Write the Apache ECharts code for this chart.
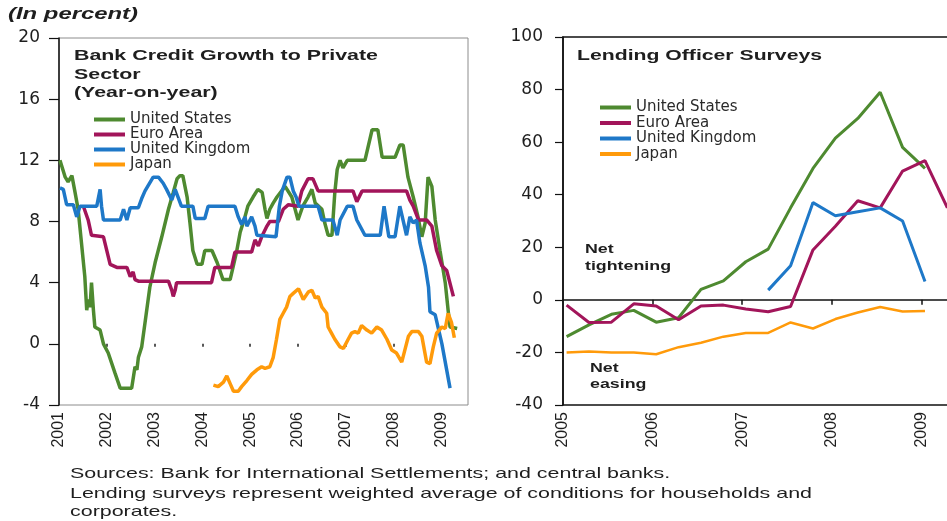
<!DOCTYPE html>
<html><head><meta charset="utf-8">
<script src="https://cdn.jsdelivr.net/npm/echarts/dist/echarts.min.js"></script>
<style>html,body{margin:0;padding:0;background:#fff}#c{width:947px;height:521px}</style>
</head><body><div id="c"></div>
<script>
// ---------- shared ----------
const seriesNames = ['United States', 'Euro Area', 'United Kingdom', 'Japan'];

// ---------- left panel: Bank credit growth to private sector (y/y, %) ----------
const leftYears = [2001, 2002, 2003, 2004, 2005, 2006, 2007, 2008, 2009];
const leftZeroTicks = [2002, 2003, 2004, 2005, 2006, 2007, 2008, 2009];

const usDates = [2001.02,2001.13,2001.19,2001.27,2001.33,2001.40,2001.47,2001.54,2001.58,2001.61,2001.65,2001.68,2001.72,2001.75,2001.86,2001.93,
  2002.03,2002.17,2002.28,2002.52,2002.59,2002.63,2002.66,2002.73,2002.80,2002.90,
  2003.01,2003.15,2003.29,2003.39,2003.47,2003.53,2003.59,2003.68,2003.74,2003.80,2003.89,2003.99,
  2004.05,2004.20,2004.31,2004.43,2004.58,2004.64,2004.72,2004.79,2004.89,2004.95,
  2005.06,2005.16,2005.25,2005.31,2005.35,2005.41,2005.48,2005.56,2005.73,2005.87,
  2006.00,2006.10,2006.21,2006.29,2006.36,2006.50,2006.56,2006.63,2006.71,2006.77,2006.82,2006.88,2006.94,
  2007.03,2007.40,2007.55,2007.67,2007.76,
  2008.03,2008.13,2008.20,2008.30,2008.41,2008.51,2008.59,2008.66,2008.72,2008.80,2008.87,2008.97,
  2009.08,2009.14,2009.18,2009.33];
const usCredit = [12.0,10.9,10.6,11.0,10.0,8.8,6.6,4.4,2.2,2.9,2.4,4.0,2.2,1.1,0.9,0.0,
  -0.6,-1.9,-2.9,-2.9,-1.5,-1.7,-0.9,-0.2,1.4,3.7,
  5.3,7.0,8.8,9.9,10.8,11.0,11.0,9.6,7.9,6.1,5.2,5.2,
  6.1,6.1,5.3,4.2,4.2,5.0,6.1,7.3,8.3,9.0,
  9.6,10.1,9.9,8.8,8.2,8.8,9.2,9.6,10.3,9.6,
  8.1,9.0,9.6,10.1,9.2,8.8,7.9,7.1,7.1,9.9,11.4,12.0,11.5,
  12.0,12.0,14.0,14.0,12.2,
  12.2,13.0,13.0,10.9,9.6,8.3,7.0,7.9,10.9,10.3,8.1,6.1,
  4.0,2.2,1.1,1.0];

const euroDates = [2001.51,2001.61,2001.68,2001.93,
  2002.00,2002.07,2002.21,2002.42,2002.49,2002.55,2002.59,2002.66,
  2003.29,2003.36,2003.39,2003.43,2003.46,
  2004.19,2004.26,2004.61,2004.68,
  2005.03,2005.10,2005.17,2005.24,2005.35,2005.41,2005.59,2005.69,2005.80,
  2006.00,2006.08,2006.21,2006.31,2006.42,
  2007.15,2007.23,2007.34,
  2008.27,2008.34,2008.41,2008.52,2008.69,2008.80,2008.90,
  2009.01,2009.11,2009.25];
const euroCredit = [9.0,8.1,7.1,7.0,
  6.1,5.2,5.0,5.0,4.4,4.7,4.2,4.1,
  4.1,3.5,3.1,3.5,4.0,
  4.0,5.0,5.0,6.0,
  6.0,6.8,6.4,7.0,7.7,8.0,8.0,8.8,9.1,
  9.0,10.0,10.8,10.8,10.0,
  10.0,9.3,10.0,
  10.0,9.4,9.0,8.1,8.1,7.7,6.1,
  5.1,4.8,3.1];

const ukDates = [2001.02,2001.09,2001.16,2001.30,2001.37,2001.44,2001.79,2001.86,2001.89,2001.93,
  2002.28,2002.35,2002.42,2002.49,2002.66,2002.73,2002.80,2002.97,
  2003.08,2003.18,2003.25,2003.36,2003.43,2003.46,2003.56,2003.80,2003.85,
  2004.05,2004.12,2004.68,2004.75,2004.82,2004.89,2004.93,
  2005.03,2005.10,2005.14,2005.54,2005.61,2005.67,2005.77,2005.83,2005.90,2005.96,
  2006.02,2006.42,2006.50,2006.73,2006.82,2006.88,
  2007.03,2007.15,2007.23,2007.40,2007.72,2007.80,2007.90,
  2008.03,2008.13,2008.27,2008.34,2008.41,2008.48,2008.55,2008.66,2008.73,2008.76,2008.87,
  2009.01,2009.18];
const ukCredit = [10.2,10.1,9.1,9.1,8.3,9.0,9.0,10.1,9.0,8.1,
  8.1,8.8,8.1,8.9,8.9,9.5,10.0,10.9,
  10.9,10.5,10.1,9.4,10.1,10.0,9.0,9.0,8.2,
  8.2,9.0,9.0,8.3,7.8,8.3,7.7,
  8.3,7.7,7.1,7.0,9.0,10.0,10.9,10.9,10.0,9.6,
  9.0,9.0,8.1,8.1,7.1,8.1,
  9.0,9.0,8.1,7.1,7.1,9.0,7.0,
  7.0,9.0,7.1,8.3,7.9,8.1,6.6,5.1,3.7,2.1,1.9,
  0.0,-2.9];

const jpDates = [2004.23,2004.33,2004.44,2004.51,2004.58,2004.65,2004.75,2004.82,2004.93,
  2005.03,2005.14,2005.24,2005.31,2005.41,2005.48,2005.55,2005.62,2005.69,2005.76,2005.83,2005.90,
  2006.01,2006.11,2006.22,2006.29,2006.36,2006.42,2006.50,2006.60,2006.63,2006.70,2006.77,2006.88,2006.95,
  2007.05,2007.12,2007.19,2007.26,2007.33,2007.44,2007.54,2007.65,2007.75,2007.86,2007.96,
  2008.06,2008.17,2008.20,2008.31,2008.38,2008.52,2008.59,2008.69,2008.76,2008.83,2008.90,
  2009.01,2009.08,2009.14,2009.21,2009.27];
const jpCredit = [-2.7,-2.8,-2.5,-2.1,-2.6,-3.1,-3.1,-2.8,-2.4,
  -2.0,-1.7,-1.5,-1.6,-1.5,-0.9,0.3,1.6,2.0,2.4,3.1,3.3,
  3.6,2.9,3.4,3.5,3.0,3.1,2.4,2.0,1.1,0.7,0.3,-0.2,-0.3,
  0.3,0.7,0.8,0.7,1.2,0.9,0.7,1.1,0.9,0.3,-0.4,
  -0.6,-1.2,-1.3,0.5,0.8,0.8,0.5,-1.2,-1.3,-0.2,0.7,
  1.1,1.0,2.0,1.4,0.4];

// ---------- right panel: Lending officer surveys (net %) ----------
const rightYears = [2005, 2006, 2007, 2008, 2009];
const surveyDates = [2005.04,2005.29,2005.54,2005.79,2006.04,2006.29,2006.54,2006.79,2007.04,2007.29,2007.54,2007.79,2008.04,2008.29,2008.54,2008.79,2009.04,2009.29];
const usSurvey   = [-14,-9.5,-5.5,-4,-8.5,-6.8,4,7.2,14.5,19.3,35,50,61.5,69,79,58,50,null];
const euroSurvey = [-2,-8.6,-8.5,-1.5,-2.3,-7.6,-2.3,-2,-3.5,-4.5,-2.5,19,28,37.7,35,49,53,35];
const ukSurvey   = [null,null,null,null,null,null,null,null,null,3.7,13,37,32,33.5,35,30,7,null];
const jpSurvey   = [-20,-19.6,-20,-20,-20.7,-18,-16.3,-14,-12.6,-12.6,-8.6,-10.9,-7.3,-4.8,-2.7,-4.4,-4.2,null];

// ---------- texts ----------
const unitText = '(In percent)';
const leftTitle = ['Bank Credit Growth to Private', 'Sector', '(Year-on-year)'];
const rightTitle = 'Lending Officer Surveys';
const tightText = ['Net', 'tightening'];
const easeText = ['Net', 'easing'];
const footnote = ['Sources: Bank for International Settlements; and central banks.',
  'Lending surveys represent weighted average of conditions for households and',
  'corporates.'];

// ---------- styling ----------
const colors = ['#4E8A30', '#A2155A', '#1E78C8', '#FF9A0A'];
const pair = (xs, ys) => xs.map((x, i) => [x, ys[i]]);

const mctx = document.createElement('canvas').getContext('2d');
function measure(str, font) { mctx.font = font; return mctx.measureText(str).width; }
function txt(str, x, y, font, scaleX, fill) {
  return { type: 'text', x: x, y: y, scaleX: scaleX, silent: true,
    style: { text: str, font: font, fill: fill || '#1e1e1e', align: 'left', verticalAlign: 'middle' } };
}
const fTitle = 'bold 15px "Liberation Sans"';
const fUnit = 'italic bold 16px "Liberation Sans"';
const fNote = 'bold 12px "Liberation Sans"';
const fFoot = '15px "Liberation Sans"';
const sLeftTitle = 304 / measure(leftTitle[0], fTitle);
const sRightTitle = 245 / measure(rightTitle, fTitle);
const sUnit = 130 / measure(unitText, fUnit);
const sNote = 86 / measure(tightText[1], fNote);
const sFoot = 742 / measure(footnote[1], fFoot);

const graphics = [
  txt(unitText, 8, 15, fUnit, sUnit),
  txt(leftTitle[0], 74, 56, fTitle, sLeftTitle),
  txt(leftTitle[1], 74, 75, fTitle, sLeftTitle),
  txt(leftTitle[2], 74, 93, fTitle, sLeftTitle),
  txt(rightTitle, 577, 56, fTitle, sRightTitle),
  txt(tightText[0], 585, 250, fNote, sNote),
  txt(tightText[1], 585, 267, fNote, sNote),
  txt(easeText[0], 590, 369, fNote, sNote),
  txt(easeText[1], 590, 385, fNote, sNote),
  txt(footnote[0], 70, 474, fFoot, sFoot),
  txt(footnote[1], 70, 494, fFoot, sFoot),
  txt(footnote[2], 70, 512, fFoot, sFoot)
];

const axisFont = 'DejaVu Sans';
const lineS = (name, data, xi, yi, idx, w) => ({
  name: name, type: 'line', data: data, xAxisIndex: xi, yAxisIndex: yi,
  showSymbol: false, symbol: 'none', connectNulls: false, clip: true,
  color: colors[idx], lineStyle: { width: w, color: colors[idx] }, z: 3 + idx
});

const chart = echarts.init(document.getElementById('c'), null, { renderer: 'canvas' });
chart.setOption({
  animation: false,
  backgroundColor: '#fff',
  grid: [
    { left: 59, top: 38, width: 409, height: 367, show: true, borderColor: '#8c8c8c', borderWidth: 1, backgroundColor: 'transparent', containLabel: false, outerBoundsMode: 'none' },
    { left: 563, top: 37, width: 386, height: 368, show: true, borderColor: '#111', borderWidth: 1.5, backgroundColor: 'transparent', containLabel: false, outerBoundsMode: 'none' }
  ],
  xAxis: [
    { gridIndex: 0, type: 'value', min: 2001, max: 2009.556, position: 'bottom',
      axisLine: { show: false, onZero: false }, axisTick: { show: false }, splitLine: { show: false },
      axisLabel: { customValues: leftYears, rotate: 90, margin: 7, fontFamily: 'Liberation Sans', fontSize: 16, color: '#1e1e1e', formatter: v => String(v) } },
    { gridIndex: 0, type: 'value', min: 2001, max: 2009.556, position: 'bottom',
      axisLine: { show: false, onZero: true }, splitLine: { show: false },
      axisTick: { show: true, customValues: leftZeroTicks, length: 3, lineStyle: { color: '#222', width: 1.5 } },
      axisLabel: { show: false } },
    { gridIndex: 1, type: 'value', min: 2005, max: 2009.308, position: 'bottom',
      axisLine: { show: false, onZero: false }, axisTick: { show: false }, splitLine: { show: false },
      axisLabel: { customValues: rightYears, rotate: 90, margin: 7, fontFamily: 'Liberation Sans', fontSize: 16, color: '#1e1e1e', formatter: v => String(v) } },
    { gridIndex: 1, type: 'value', min: 2005, max: 2009.308, position: 'bottom',
      axisLine: { show: true, onZero: true, lineStyle: { color: '#111', width: 1.5 } }, splitLine: { show: false },
      axisTick: { show: true, customValues: rightYears.slice(1), length: 5, lineStyle: { color: '#111', width: 1.5 } },
      axisLabel: { show: false } }
  ],
  yAxis: [
    { gridIndex: 0, type: 'value', min: -4, max: 20, interval: 4,
      axisLine: { show: true, onZero: false, lineStyle: { color: '#111', width: 1.5 } },
      axisTick: { show: true, length: 10, lineStyle: { color: '#111', width: 1.2 } },
      splitLine: { show: false },
      axisLabel: { margin: 19, fontFamily: axisFont, fontSize: 17, color: '#1e1e1e' } },
    { gridIndex: 1, type: 'value', min: -40, max: 100, interval: 20,
      axisLine: { show: true, onZero: false, lineStyle: { color: '#111', width: 1.5 } },
      axisTick: { show: true, length: 8, lineStyle: { color: '#111', width: 1.2 } },
      splitLine: { show: false },
      axisLabel: { margin: 20, fontFamily: axisFont, fontSize: 17, color: '#1e1e1e' } }
  ],
  legend: [
    { data: seriesNames, orient: 'vertical', left: 94, top: 112, itemWidth: 31, itemHeight: 4, itemGap: 0,
      icon: 'rect', selectedMode: false, padding: 0,
      textStyle: { fontFamily: axisFont, fontSize: 15, lineHeight: 14.5, color: '#2a2a2a' } },
    { data: seriesNames, orient: 'vertical', left: 600, top: 100, itemWidth: 31, itemHeight: 4, itemGap: 0.5,
      icon: 'rect', selectedMode: false, padding: 0,
      textStyle: { fontFamily: axisFont, fontSize: 15, lineHeight: 14.5, color: '#2a2a2a' } }
  ],
  graphic: { elements: graphics },
  series: [
    lineS(seriesNames[0], pair(usDates, usCredit), 0, 0, 0, 3.5),
    lineS(seriesNames[1], pair(euroDates, euroCredit), 0, 0, 1, 3.5),
    lineS(seriesNames[2], pair(ukDates, ukCredit), 0, 0, 2, 3.5),
    lineS(seriesNames[3], pair(jpDates, jpCredit), 0, 0, 3, 3.5),
    lineS(seriesNames[0], pair(surveyDates, usSurvey), 2, 1, 0, 3),
    lineS(seriesNames[1], pair(surveyDates, euroSurvey), 2, 1, 1, 3),
    lineS(seriesNames[2], pair(surveyDates, ukSurvey), 2, 1, 2, 3),
    lineS(seriesNames[3], pair(surveyDates, jpSurvey), 2, 1, 3, 2.5)
  ]
});
</script>
</body></html>
